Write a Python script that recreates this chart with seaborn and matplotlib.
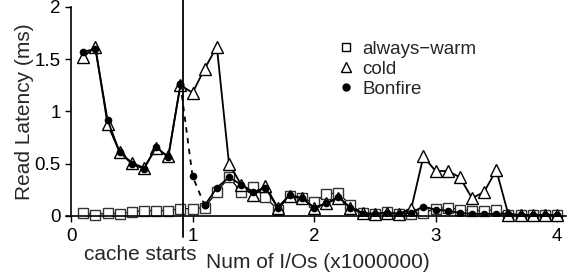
import numpy as np
import pandas as pd
from matplotlib import pyplot as plt
from matplotlib.lines import Line2D
import seaborn as sns

# I/O count (x1000000)
ios = [0.1, 0.2, 0.3, 0.4, 0.5, 0.6, 0.7, 0.8, 0.9, 1.0,
       1.1, 1.2, 1.3, 1.4, 1.5, 1.6, 1.7, 1.8, 1.9, 2.0,
       2.1, 2.2, 2.3, 2.4, 2.5, 2.6, 2.7, 2.8, 2.9, 3.0,
       3.1, 3.2, 3.3, 3.4, 3.5, 3.6, 3.7, 3.8, 3.9, 4.0]

always_warm = [0.03, 0.01, 0.03, 0.02, 0.04, 0.05, 0.05, 0.05, 0.07, 0.07,
               0.08, 0.23, 0.37, 0.23, 0.28, 0.18, 0.06, 0.19, 0.17, 0.13,
               0.21, 0.22, 0.10, 0.03, 0.02, 0.04, 0.02, 0.02, 0.03, 0.07,
               0.08, 0.06, 0.05, 0.05, 0.06, 0.01, 0.01, 0.01, 0.01, 0.01]

cold = [1.52, 1.62, 0.88, 0.61, 0.51, 0.46, 0.65, 0.57, 1.25, 1.18,
        1.41, 1.62, 0.50, 0.30, 0.20, 0.29, 0.08, 0.19, 0.17, 0.08,
        0.12, 0.17, 0.08, 0.03, 0.02, 0.03, 0.02, 0.07, 0.57, 0.43,
        0.43, 0.37, 0.17, 0.23, 0.44, 0.01, 0.01, 0.01, 0.01, 0.01]

bonfire = [1.57, 1.60, 0.92, 0.61, 0.50, 0.45, 0.66, 0.56, 1.26, 0.38,
           0.10, 0.27, 0.37, 0.30, 0.23, 0.27, 0.08, 0.20, 0.17, 0.08,
           0.12, 0.18, 0.08, 0.02, 0.02, 0.03, 0.02, 0.03, 0.09, 0.06,
           0.05, 0.03, 0.02, 0.02, 0.02, 0.02, 0.01, 0.01, 0.01, 0.01]

cache_start = 0.92

data = pd.DataFrame({"ios": ios, "always-warm": always_warm,
                     "cold": cold, "Bonfire": bonfire})

sns.set_style("ticks")
plt.rcParams["font.family"] = ["Liberation Sans", "DejaVu Sans"]

fig = plt.figure(figsize=(5.73, 2.79), dpi=100)
ax = fig.add_axes([0.124, 0.226, 0.863, 0.749])

# always-warm: open squares, thin line
sns.lineplot(data=data, x="ios", y="always-warm", ax=ax, color="black", lw=0.9,
             marker="s", markersize=7, markerfacecolor="white",
             markeredgecolor="#333333", markeredgewidth=1.0, clip_on=False)

# cold: open triangles
sns.lineplot(data=data, x="ios", y="cold", ax=ax, color="black", lw=1.3,
             marker="^", markersize=9, markerfacecolor="white",
             markeredgecolor="black", markeredgewidth=1.0, clip_on=False)

# Bonfire: solid before cache, dashed while warming up, solid after
before = data[data.ios <= 0.9]
warmup = data[(data.ios >= 0.9) & (data.ios <= 1.1)]
after = data[data.ios >= 1.1]
sns.lineplot(data=before, x="ios", y="Bonfire", ax=ax, color="black", lw=1.3,
             marker="o", markersize=5.5, markeredgewidth=0)
sns.lineplot(data=warmup, x="ios", y="Bonfire", ax=ax, color="black", lw=1.3,
             linestyle=(0, (3, 3)), marker="o", markersize=5.5, markeredgewidth=0)
sns.lineplot(data=after, x="ios", y="Bonfire", ax=ax, color="black", lw=1.3,
             marker="o", markersize=5.5, markeredgewidth=0)

# cache starts marker line
ax.plot([cache_start, cache_start], [-0.2, 2.2], color="black", lw=1.3,
        clip_on=False)
# zero line runs a little past the y axis
ax.plot([-0.04, 0], [0, 0], color="black", lw=1.2, clip_on=False)
fig.text(140 / 573, 1 - 255 / 279, "cache starts", ha="center", va="center",
         fontsize=15)

ax.set_xlim(0, 4.07)
ax.set_ylim(0, 2)
ax.set_xticks([0, 1, 2, 3, 4])
ax.set_xticklabels(["0", "1", "2", "3", "4"])
ax.set_yticks([0, 0.5, 1, 1.5, 2])
ax.set_yticklabels(["0", "0.5", "1", "1.5", "2"])
ax.tick_params(axis="both", direction="out", length=4, width=1, labelsize=13.5,
               color="black", labelcolor="black")
ax.tick_params(axis="x", pad=4.5)
sns.despine(ax=ax)
for s in ["left", "bottom"]:
    ax.spines[s].set_color("black")
    ax.spines[s].set_linewidth(1.2)

ax.set_xlabel("Num of I/Os (x1000000)", fontsize=15, labelpad=6)
ax.set_ylabel("Read Latency (ms)", fontsize=15, labelpad=0)

handles = [
    Line2D([], [], linestyle="none", marker="s", markersize=6,
           markerfacecolor="white", markeredgecolor="black"),
    Line2D([], [], linestyle="none", marker="^", markersize=7,
           markerfacecolor="white", markeredgecolor="black"),
    Line2D([], [], linestyle="none", marker="o", markersize=5,
           color="black"),
]
ax.legend(handles, ["always\u2212warm", "cold", "Bonfire"], frameon=False,
          fontsize=13.5, loc="upper left", bbox_to_anchor=(0.525, 0.875),
          handlelength=0.8, handletextpad=0.5, labelspacing=0.15,
          borderaxespad=0)

plt.savefig("out.png", dpi=100)
